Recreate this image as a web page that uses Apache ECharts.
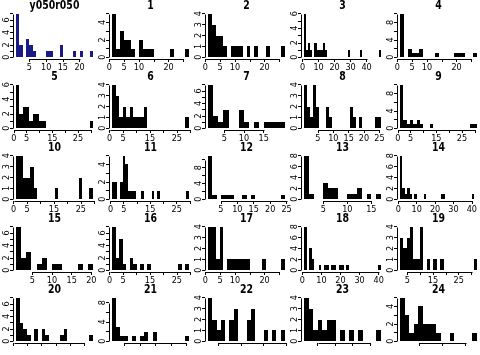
<!DOCTYPE html>
<html><head><meta charset="utf-8">
<script src="https://cdn.jsdelivr.net/npm/echarts@6/dist/echarts.min.js"></script>
<style>html,body{margin:0;padding:0;background:#fff;overflow:hidden}#c{width:480px;height:355px}</style>
</head><body><div id="c"></div>
<script>
// ---- data ----
const titles = ["y050r050","1","2","3","4","5","6","7","8","9","10","11","12","13","14","15","16","17","18","19","20","21","22","23","24"];
const binStart = [1.0,0.9,0.9,0.9,0.9, 0.9,0.9,0.9,0.5,0.9, 0.9,0.6,1.1,1.0,0.9, 0.9,0.9,0.9,0.9,2.2, 0.9,1.1,2.7,1.1,0.96];
const binWidth = [1,1.3,1.3,1.3,1.3, 1.3,1.3,1.3,1,1.3, 1.3,1,1.3,1,1.3, 1.3,1.3,1.3,1.3,1.3, 1.3,1.3,0.95,1.3,0.97];

const h00 = [7,2,0,3,2,1,0,0,0,1,1,0,0,2,0,0,0,1,0,1,0,0,1];
const h01 = [5,1,3,2,2,1,0,2,1,1,1,0,0,0,0,1,0,0,0,1];
const h02 = [4,3,2,2,1,0,1,1,1,0,1,0,1,0,0,1,0,0,0,1];
const h03 = [6,1,2,1,0,2,1,1,1,2,1,0,0,0,0,0,0,0,0,0,0,1,0,0,0,0,0,1,0,0,0,0,0,0,0,0,1];
const h04 = [10,0,2,1,1,2,0,0,0,1,0,0,0,0,1,1,1,0,0,1];
const h05 = [6,2,3,3,1,2,2,1,1,0,0,0,0,0,0,0,0,0,0,0,0,0,1];
const h06 = [4,3,1,2,1,2,1,1,1,2,0,0,0,0,0,0,0,0,0,0,0,1];
const h07 = [7,2,1,3,0,0,3,1,0,1,0,1,1,1,1];
const h08 = [4,2,1,4,2,0,0,2,1,0,0,0,0,0,0,2,1,0,1,0,0,0,0,1,1];
const h09 = [10,2,1,2,1,2,1,0,0,1,0,0,0,0,0,0,0,0,0,0,0,1,1];
const h10 = [4,4,2,2,3,1,0,0,0,0,0,1,0,0,0,0,0,0,2,0,0,1];
const h11 = [2,2,0,2,5,4,1,1,1,0,0,1,0,0,0,1,0,1,0,0,0,0,0,0,0,0,0,0,1];
const h12 = [11,1,0,1,1,1,0,0,1,0,1,0,0,0,0,0,0,1];
const h13 = [8,1,0,0,3,2,2,0,0,1,1,2,0,1,0,1];
const h14 = [8,2,1,2,1,0,1,0,0,0,1,0,0,0,0,0,0,1,1,0,0,0,0,0,0,0,0,0,0,0,1];
const h15 = [7,2,3,0,1,2,0,1,1,0,0,0,1,0,1];
const h16 = [7,2,5,1,0,2,1,0,1,0,1,0,0,0,0,0,0,0,0,1,0,1];
const h17 = [4,4,1,4,0,1,1,1,1,1,1,0,0,0,1,0,0,0,0,1];
const h18 = [8,0,4,2,0,0,1,0,1,1,0,1,1,0,1,1,0,1,0,0,0,0,0,0,0,0,0,0,0,0,1];
const h19 = [3,2,3,4,1,1,4,0,1,0,1,0,1,0,0,0,0,0,0,0,0,0,1];
const h20 = [7,3,2,1,0,2,0,2,1,0,0,0,1,2,0,0,0,0,0,0,1];
const h21 = [9,3,1,1,0,1,0,1,2,0,2,0,0,0,0,0,0,0,1];
const h22 = [4,2,1,2,0,2,3,0,0,2,3,0,0,1,0,1,0,1];
const h23 = [4,3,1,2,1,2,2,0,1,0,1,0,1,0,0,0,1];
const h24 = [5,3,1,2,4,2,2,2,1,0,0,1,0,0,0,0,1];
const counts = [h00,h01,h02,h03,h04,h05,h06,h07,h08,h09,h10,h11,h12,h13,h14,h15,h16,h17,h18,h19,h20,h21,h22,h23,h24];

const T5a = [0,5,10,15,20,25], T5b = [0,5,10,15,20,25,30], T10 = [0,10,20,30,40];
const xTicks = [[5,10,15,20],T5a,T5a,T10,T5a, T5b,T5b,[5,10,15],[5,10,15,20,25],T5b,
                T5b,T5b,[5,10,15,20,25],[5,10,15],T10, [5,10,15,20],T5b,T5a,T10,[5,10,15,20,25,30],
                T5a,[5,10,15,20,25],[5,10,15,20],[5,10,15,20],[5,10,15]];
const xLabels = [[5,10,15,20],[0,5,10,20],[0,5,10,20],T10,[0,5,10,20],
                 [0,5,15,25],[0,5,15,25],[5,10,15],[5,10,15,20,25],[0,5,15,25],
                 [0,5,15,25],[0,5,15,25],[5,10,15,20,25],[5,10,15],T10,
                 [5,10,15,20],[0,5,15,25],[0,5,10,20],T10,[5,15,25],
                 [],[],[],[],[]];
const Y4=[0,1,2,3,4], Y5=[0,1,2,3,4,5], Y6=[0,1,2,3,4,5,6], Y7=[0,1,2,3,4,5,6,7], Y8=[0,2,4,6,8], Y10=[0,2,4,6,8,10];
const yTicks = [Y7,Y5,Y4,Y6,Y10, Y6,Y4,Y7,Y4,Y10, Y4,Y5,Y10,Y8,Y8, Y7,Y7,Y4,Y8,Y4, Y7,Y8,Y4,Y4,Y5];
const yLabels = [[0,2,4,6],[0,2,4],Y4,[0,2,4,6],[0,4,8],
                 [0,2,4,6],Y4,[0,2,4,6],Y4,[0,4,8],
                 Y4,[0,2,4],[0,4,8],Y8,Y8,
                 [0,2,4,6],[0,2,4,6],Y4,Y8,Y4,
                 [0,2,4,6],[0,4,8],Y4,Y4,[0,2,4]];
const barColors = ["#1b1b86"];

// ---- chart ----
const FONT = '"Liberation Sans Narrow","DejaVu Sans Condensed","Liberation Sans",sans-serif';
const chart = echarts.init(document.getElementById('c'), null, {renderer:'canvas'});
const grids=[], xAxes=[], yAxes=[], series=[], graphics=[];
for (let i=0;i<25;i++){
  const c=i%5, r=Math.floor(i/5);
  const left=13+96*c, top=12+71*r, W=83, H=47;
  const cnt=counts[i], n=cnt.length, b0=binStart[i], w=binWidth[i], bN=b0+n*w, R=bN-b0;
  const M=Math.max.apply(null,cnt);
  const xmin=b0-0.04*R, xmax=bN+0.04*R, ymin=-0.04*M, ymax=1.04*M;
  const color = barColors[i] || '#000';
  grids.push({left:left, top:top, width:W, height:H});
  xAxes.push({type:'value', gridIndex:i, min:xmin, max:xmax, position:'bottom',
    axisLine:{show:false,onZero:false}, splitLine:{show:false},
    axisTick:{show:true,length:3,customValues:xTicks[i],lineStyle:{color:'#000',width:1}},
    axisLabel:{show:xLabels[i].length>0, customValues:xLabels[i], margin:4, color:'#000',
      fontSize:9, fontFamily:FONT, hideOverlap:false}
  });
  yAxes.push({type:'value', gridIndex:i, min:ymin, max:ymax, position:'left',
    axisLine:{show:false,onZero:false}, splitLine:{show:false},
    axisTick:{show:true,length:3,customValues:yTicks[i],lineStyle:{color:'#000',width:1}},
    axisLabel:{customValues:yLabels[i], rotate:90, margin:2, color:'#000',
      fontSize:9, fontFamily:FONT, hideOverlap:false}
  });
  const data=[];
  cnt.forEach(function(v,k){ if(v>0) data.push([b0+k*w, b0+(k+1)*w, v]); });
  series.push({type:'custom', xAxisIndex:i, yAxisIndex:i, silent:true, animation:false, data:data,
    renderItem:function(params, api){
      const a=api.coord([api.value(0),0]);
      const b=api.coord([api.value(1),api.value(2)]);
      const xl=Math.round(a[0]), xr=Math.round(b[0]);
      const yb=Math.round(a[1]), yt=Math.round(b[1]);
      return {type:'rect', shape:{x:xl, y:yt, width:Math.max(1,xr-xl), height:yb-yt}, style:{fill:color}};
    }
  });
  const xt=xTicks[i], yt=yTicks[i];
  series.push({type:'custom', xAxisIndex:i, yAxisIndex:i, silent:true, animation:false,
    data:[[xt[0], xt[xt.length-1], yt[yt.length-1]]],
    renderItem:function(params, api){
      const p1=api.coord([api.value(0), ymin]), p2=api.coord([api.value(1), ymin]);
      const q1=api.coord([xmin, 0]), q2=api.coord([xmin, api.value(2)]);
      const yy=Math.round(p1[1])+0.5, xx=Math.round(q1[0])+0.5;
      return {type:'group', children:[
        {type:'line', shape:{x1:Math.round(p1[0])+0.5, y1:yy, x2:Math.round(p2[0])+0.5, y2:yy}, style:{stroke:'#000', lineWidth:1}},
        {type:'line', shape:{x1:xx, y1:Math.round(q1[1])+0.5, x2:xx, y2:Math.round(q2[1])+0.5}, style:{stroke:'#000', lineWidth:1}}
      ]};
    }
  });
  graphics.push({type:'text', x:left+W/2, y:6+71*r, scaleX:0.8,
    style:{text:titles[i], fill:'#000', font:'bold 13px '+FONT, textAlign:'center', textVerticalAlign:'middle', align:'center', verticalAlign:'middle'}});
}
chart.setOption({animation:false, grid:grids, xAxis:xAxes, yAxis:yAxes, series:series, graphic:graphics});
</script>
</body></html>
